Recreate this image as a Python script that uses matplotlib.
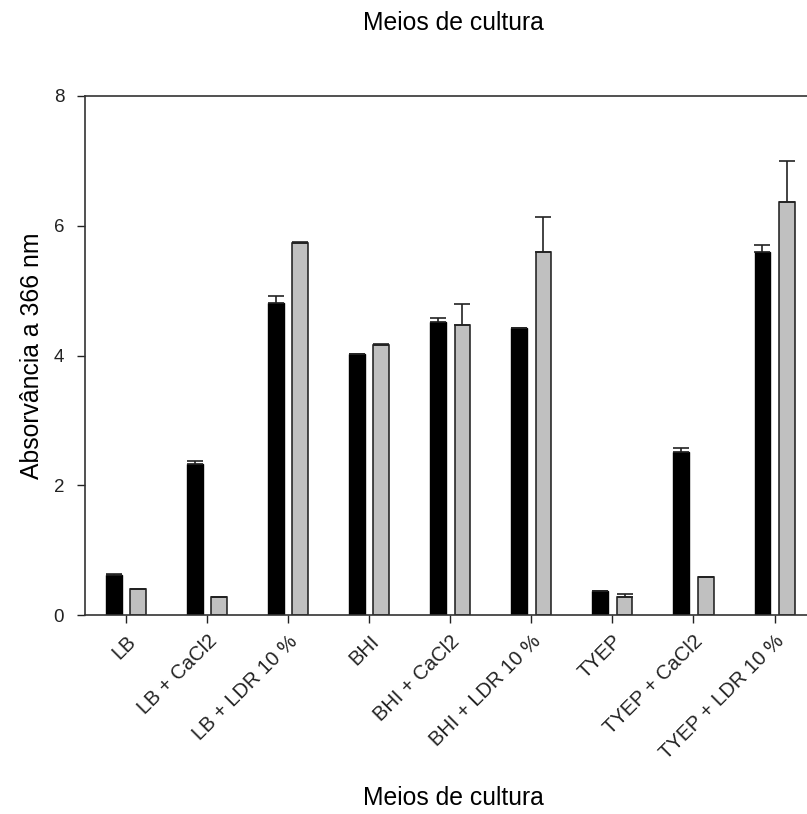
"""Absorbance at 366 nm per culture medium, two strains side by side."""

import matplotlib

matplotlib.use("Agg")
import matplotlib.pyplot as plt
import numpy as np

plt.rcParams["font.family"] = ["Liberation Sans", "DejaVu Sans"]

media = [
    "LB", "LB + CaCl2", "LB + LDR 10 %",
    "BHI", "BHI + CaCl2", "BHI + LDR 10 %",
    "TYEP", "TYEP + CaCl2", "TYEP + LDR 10 %",
]
black_vals = [0.61, 2.32, 4.81, 4.02, 4.51, 4.43, 0.37, 2.52, 5.59]
black_err = [0.02, 0.05, 0.11, 0.01, 0.07, 0.0, 0.0, 0.05, 0.11]
gray_vals = [0.40, 0.27, 5.73, 4.16, 4.47, 5.59, 0.28, 0.59, 6.36]
gray_err = [0.0, 0.0, 0.02, 0.01, 0.32, 0.54, 0.05, 0.0, 0.64]

fig = plt.figure(figsize=(8.07, 8.14), dpi=100)
ax = fig.add_axes([85 / 807, 1 - 615 / 814, 1 - 85 / 807, (615 - 96) / 814])

x = np.arange(len(media))
width = 0.195
off = 0.15
err_kw = dict(ecolor="#222222", elinewidth=1.2, capsize=5.5, capthick=1.2)
zeros = np.zeros(len(media))
ax.bar(x - off, black_vals, width, color="black", edgecolor="black", linewidth=1.0,
       yerr=[zeros, black_err], error_kw=err_kw, zorder=2)
ax.bar(x + off, gray_vals, width, color="#c0c0c0", edgecolor="#1a1a1a", linewidth=1.1,
       yerr=[zeros, gray_err], error_kw=err_kw, zorder=2)

ax.set_xlim(-0.505, 8.4)
ax.set_ylim(0, 8)
ax.set_yticks([0, 2, 4, 6, 8])
ax.set_xticks(x)
ax.set_xticklabels(media, rotation=45, ha="right", rotation_mode="anchor")
ax.tick_params(axis="both", direction="out", length=6, width=1.0, colors="#222222")
ax.tick_params(axis="x", labelsize=14.5, pad=6)
ax.tick_params(axis="y", labelsize=13.5, pad=9)
for side in ("left", "bottom", "top"):
    ax.spines[side].set_linewidth(1.2)
    ax.spines[side].set_color("#333333")
ax.spines["right"].set_visible(False)

ax.set_ylabel("Absorvância a 366 nm", fontsize=17.8, labelpad=7)
fig.text(453 / 807, 1 - 30 / 814, "Meios de cultura", fontsize=17.8, ha="center", va="baseline")
fig.text(453 / 807, 1 - 805 / 814, "Meios de cultura", fontsize=17.8, ha="center", va="baseline")

fig.savefig("out.png", dpi=100)
